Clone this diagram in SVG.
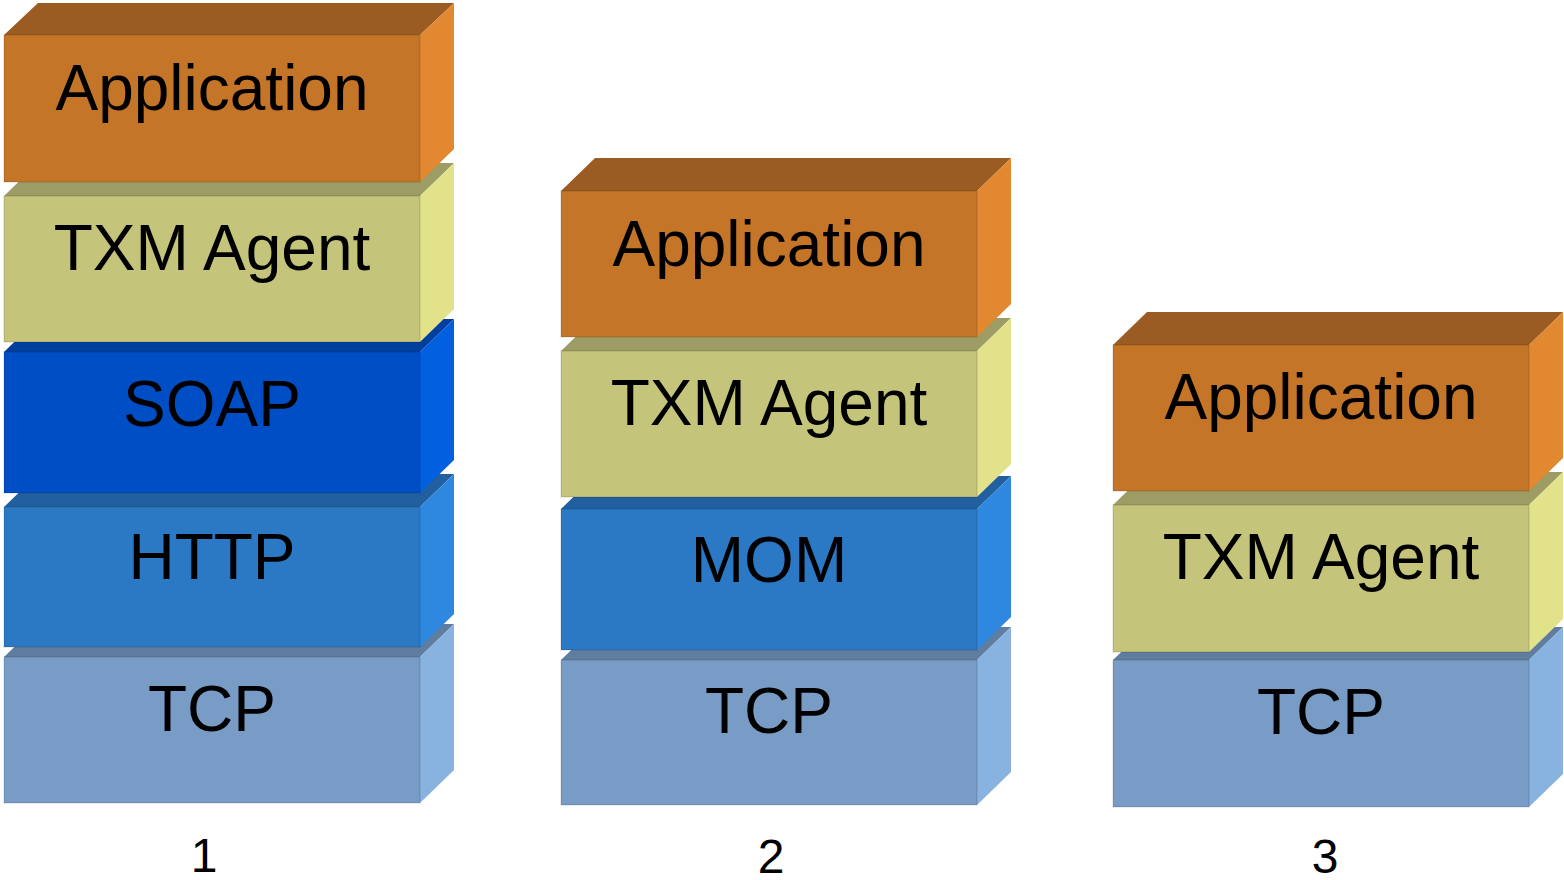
<svg xmlns="http://www.w3.org/2000/svg" width="1564" height="880" viewBox="0 0 1564 880">
<defs>
<style>
text{font-family:"Liberation Sans",Arial,sans-serif;fill:#000;text-anchor:middle}
.lbl{font-size:64px}
.num{font-size:48px}
.app .f{fill:#C47528}.app .t{fill:#9A5C22}.app .r{fill:#E28830}
.txm .f{fill:#C4C47A}.txm .t{fill:#9C9C64}.txm .r{fill:#E2E28A}
.soap .f{fill:#004EC6}.soap .t{fill:#003F9E}.soap .r{fill:#0060E0}
.http .f{fill:#2B78C5}.http .t{fill:#225F9E}.http .r{fill:#2F88E0}
.tcp .f{fill:#789CC5}.tcp .t{fill:#5F7D9E}.tcp .r{fill:#88B2E0}
.f{stroke:rgba(0,0,0,0.08);stroke-width:2}
</style>
</defs>
<!-- Stack 1 (drawn bottom-up so upper boxes overlap lower top faces) -->
<g id="s1-tcp" class="tcp">
<polygon class="t" points="4,657 38,624 454,624 420,657"/>
<polygon class="r" points="420,657 454,624 454,770 420,803"/>
<rect class="f" x="4" y="657" width="416" height="146"/>
<text class="lbl" x="212" y="731">TCP</text>
</g>
<g id="s1-http" class="http">
<polygon class="t" points="4,507 38,474 454,474 420,507"/>
<polygon class="r" points="420,507 454,474 454,614 420,647"/>
<rect class="f" x="4" y="507" width="416" height="140"/>
<text class="lbl" x="212" y="579">HTTP</text>
</g>
<g id="s1-soap" class="soap">
<polygon class="t" points="4,352 38,319 454,319 420,352"/>
<polygon class="r" points="420,352 454,319 454,460 420,493"/>
<rect class="f" x="4" y="352" width="416" height="141"/>
<text class="lbl" x="212" y="426">SOAP</text>
</g>
<g id="s1-txm" class="txm">
<polygon class="t" points="4,196 38,163 454,163 420,196"/>
<polygon class="r" points="420,196 454,163 454,309 420,342"/>
<rect class="f" x="4" y="196" width="416" height="146"/>
<text class="lbl" x="212" y="270">TXM Agent</text>
</g>
<g id="s1-app" class="app">
<polygon class="t" points="4,35 38,3 454,3 420,35"/>
<polygon class="r" points="420,35 454,3 454,149 420,182"/>
<rect class="f" x="4" y="35" width="416" height="147"/>
<text class="lbl" x="212" y="110">Application</text>
</g>
<!-- Stack 2 -->
<g id="s2-tcp" class="tcp">
<polygon class="t" points="561,660 595,627 1011,627 977,660"/>
<polygon class="r" points="977,660 1011,627 1011,772 977,805"/>
<rect class="f" x="561" y="660" width="416" height="145"/>
<text class="lbl" x="769" y="733">TCP</text>
</g>
<g id="s2-mom" class="http">
<polygon class="t" points="561,509 595,476 1011,476 977,509"/>
<polygon class="r" points="977,509 1011,476 1011,617 977,650"/>
<rect class="f" x="561" y="509" width="416" height="141"/>
<text class="lbl" x="769" y="582">MOM</text>
</g>
<g id="s2-txm" class="txm">
<polygon class="t" points="561,351 595,318 1011,318 977,351"/>
<polygon class="r" points="977,351 1011,318 1011,464 977,497"/>
<rect class="f" x="561" y="351" width="416" height="146"/>
<text class="lbl" x="769" y="425">TXM Agent</text>
</g>
<g id="s2-app" class="app">
<polygon class="t" points="561,191 595,158 1011,158 977,191"/>
<polygon class="r" points="977,191 1011,158 1011,304 977,337"/>
<rect class="f" x="561" y="191" width="416" height="146"/>
<text class="lbl" x="769" y="266">Application</text>
</g>
<!-- Stack 3 -->
<g id="s3-tcp" class="tcp">
<polygon class="t" points="1113,660 1147,627 1563,627 1529,660"/>
<polygon class="r" points="1529,660 1563,627 1563,774 1529,807"/>
<rect class="f" x="1113" y="660" width="416" height="147"/>
<text class="lbl" x="1321" y="734">TCP</text>
</g>
<g id="s3-txm" class="txm">
<polygon class="t" points="1113,505 1147,472 1563,472 1529,505"/>
<polygon class="r" points="1529,505 1563,472 1563,619 1529,652"/>
<rect class="f" x="1113" y="505" width="416" height="147"/>
<text class="lbl" x="1321" y="579">TXM Agent</text>
</g>
<g id="s3-app" class="app">
<polygon class="t" points="1113,345 1147,312 1563,312 1529,345"/>
<polygon class="r" points="1529,345 1563,312 1563,458 1529,491"/>
<rect class="f" x="1113" y="345" width="416" height="146"/>
<text class="lbl" x="1321" y="419">Application</text>
</g>
<g id="labels">
<text class="num" x="204" y="872">1</text>
<text class="num" x="771" y="873">2</text>
<text class="num" x="1325" y="873">3</text>
</g>
<g id="connectors"/>
</svg>
